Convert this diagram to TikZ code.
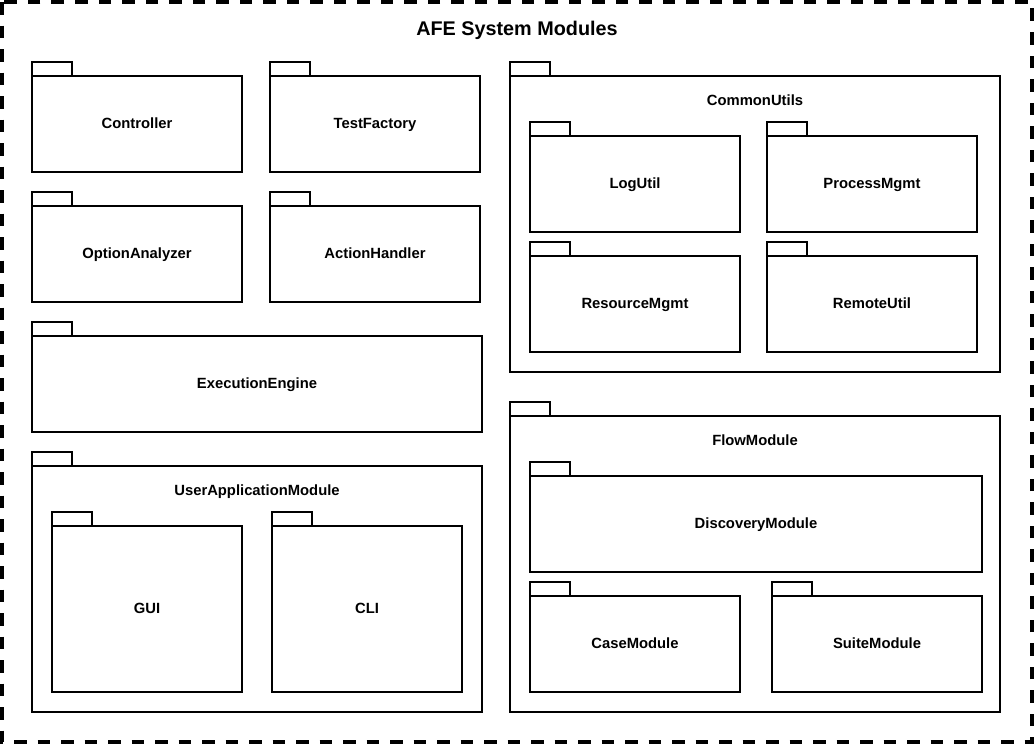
\documentclass[tikz,border=0pt]{standalone}
\usepackage{fontspec}
\setmainfont{Liberation Sans}
\begin{document}
\begin{tikzpicture}[x=1pt,y=-1pt,
  pkgline/.style={draw=black,line width=1.1pt,fill=white},
  pkglabel/.style={font=\bfseries\fontsize{14.8}{17}\selectfont,inner sep=0pt,anchor=center,text height=10.6pt,text depth=0pt},
  titlelabel/.style={font=\bfseries\fontsize{19.8}{23}\selectfont,inner sep=0pt,anchor=center,text height=14.2pt,text depth=0pt},
  frameline/.style={draw=black,line width=3.5pt,dash pattern=on 12.5pt off 11pt}]
\useasboundingbox (0,0) rectangle (1034,744);
\fill[white] (0,0) rectangle (1034,744);
\draw[frameline] (2,2) rectangle (1032,742);
\node[titlelabel] (title) at (517,28) {AFE System Modules};
% #1 name, #2 x1, #3 y1, #4 x2, #5 y2, #6 label x, #7 label y, #8 text
\newcommand\pkgbox[8]{%
  \draw[pkgline] (#2,#3-14) rectangle (#2+40,#3);
  \draw[pkgline] (#2,#3) rectangle (#4,#5);
  \node[pkglabel] (#1) at (#6,#7) {#8};}
\pkgbox{controller}{32}{76}{242}{172}{137}{123}{Controller}
\pkgbox{testfactory}{270}{76}{480}{172}{375}{123}{TestFactory}
\pkgbox{optionanalyzer}{32}{206}{242}{302}{137}{253}{OptionAnalyzer}
\pkgbox{actionhandler}{270}{206}{480}{302}{375}{253}{ActionHandler}
\pkgbox{executionengine}{32}{336}{482}{432}{257}{383}{ExecutionEngine}
\pkgbox{userapp}{32}{466}{482}{712}{257}{490}{UserApplicationModule}
\pkgbox{gui}{52}{526}{242}{692}{147}{608}{GUI}
\pkgbox{cli}{272}{526}{462}{692}{367}{608}{CLI}
\pkgbox{commonutils}{510}{76}{1000}{372}{755}{100}{CommonUtils}
\pkgbox{logutil}{530}{136}{740}{232}{635}{183}{LogUtil}
\pkgbox{processmgmt}{767}{136}{977}{232}{872}{183}{ProcessMgmt}
\pkgbox{resourcemgmt}{530}{256}{740}{352}{635}{303}{ResourceMgmt}
\pkgbox{remoteutil}{767}{256}{977}{352}{872}{303}{RemoteUtil}
\pkgbox{flowmodule}{510}{416}{1000}{712}{755}{440}{FlowModule}
\pkgbox{discovery}{530}{476}{982}{572}{756}{523}{DiscoveryModule}
\pkgbox{casemodule}{530}{596}{740}{692}{635}{643}{CaseModule}
\pkgbox{suitemodule}{772}{596}{982}{692}{877}{643}{SuiteModule}
\end{tikzpicture}
\end{document}
